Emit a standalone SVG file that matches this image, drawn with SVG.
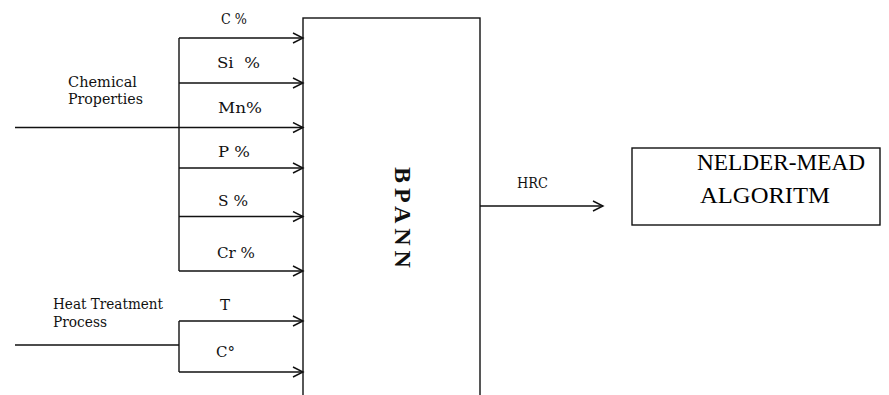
<svg xmlns="http://www.w3.org/2000/svg" width="889" height="395" viewBox="0 0 889 395">
<style>
.ln{stroke:#111;stroke-width:1.4;fill:none}
.arr{marker-end:url(#ah)}
.lb{font-family:"DejaVu Serif",serif;font-size:15px;fill:#111}
.sm{font-size:14px}
.box{fill:#fff;stroke:#111;stroke-width:1.4}
.big{font-family:"Liberation Serif","Times New Roman",serif;font-size:24px;fill:#000}
.bp{font-family:"Liberation Serif","Times New Roman",serif;font-size:24px;font-weight:bold;fill:#111;letter-spacing:5px}
</style>
<defs>
<marker id="ah" markerUnits="userSpaceOnUse" markerWidth="14" markerHeight="14" refX="11" refY="6" orient="auto">
<path d="M1,1 L11,6 L1,11" fill="none" stroke="#111" stroke-width="1.4"/>
</marker>
</defs>
<rect width="889" height="395" fill="#fff"/>
<g id="bpann">
<rect class="box" x="303" y="18" width="177" height="400"/>
<text class="bp" transform="translate(395,167) rotate(90)" x="0" y="0">BPANN</text>
</g>
<g id="nelder-mead">
<rect class="box" x="632" y="148" width="248" height="77"/>
<text class="big" x="697" y="170" textLength="168" lengthAdjust="spacingAndGlyphs">NELDER-MEAD</text>
<text class="big" x="700" y="203" textLength="130" lengthAdjust="spacingAndGlyphs">ALGORITM</text>
</g>
<g id="connectors">
<line class="ln" x1="179" y1="38" x2="179" y2="271"/>
<line class="ln" x1="179" y1="321" x2="179" y2="372"/>
<line class="ln" x1="15" y1="345" x2="179" y2="345"/>
<line class="ln arr" x1="179" y1="38" x2="303" y2="38"/>
<line class="ln arr" x1="179" y1="83" x2="303" y2="83"/>
<line class="ln arr" x1="15" y1="127.5" x2="303" y2="127.5"/>
<line class="ln arr" x1="179" y1="168" x2="303" y2="168"/>
<line class="ln arr" x1="179" y1="216.5" x2="303" y2="216.5"/>
<line class="ln arr" x1="179" y1="271" x2="303" y2="271"/>
<line class="ln arr" x1="179" y1="321" x2="303" y2="321"/>
<line class="ln arr" x1="179" y1="372" x2="303" y2="372"/>
<line class="ln arr" x1="480" y1="206" x2="603" y2="206"/>
</g>
<g id="labels">
<text class="lb" x="221" y="24" textLength="26" lengthAdjust="spacingAndGlyphs">C %</text>
<text class="lb" x="217" y="68" textLength="43" lengthAdjust="spacingAndGlyphs" style="white-space:pre">Si  %</text>
<text class="lb" x="218" y="113" textLength="44" lengthAdjust="spacingAndGlyphs">Mn%</text>
<text class="lb" x="218" y="157" textLength="32" lengthAdjust="spacingAndGlyphs">P %</text>
<text class="lb" x="218" y="206" textLength="30" lengthAdjust="spacingAndGlyphs">S %</text>
<text class="lb" x="217" y="258" textLength="38" lengthAdjust="spacingAndGlyphs">Cr %</text>
<text class="lb" x="220" y="310">T</text>
<text class="lb" x="216" y="357">C°</text>
<text class="lb sm" x="68" y="87" textLength="69" lengthAdjust="spacingAndGlyphs">Chemical</text>
<text class="lb sm" x="68" y="104" textLength="75" lengthAdjust="spacingAndGlyphs">Properties</text>
<text class="lb" x="53" y="309" textLength="110" lengthAdjust="spacingAndGlyphs">Heat Treatment</text>
<text class="lb" x="53" y="327" textLength="54" lengthAdjust="spacingAndGlyphs">Process</text>
<text class="lb" x="517" y="188" font-size="14" textLength="31" lengthAdjust="spacingAndGlyphs">HRC</text>
</g>
</svg>
